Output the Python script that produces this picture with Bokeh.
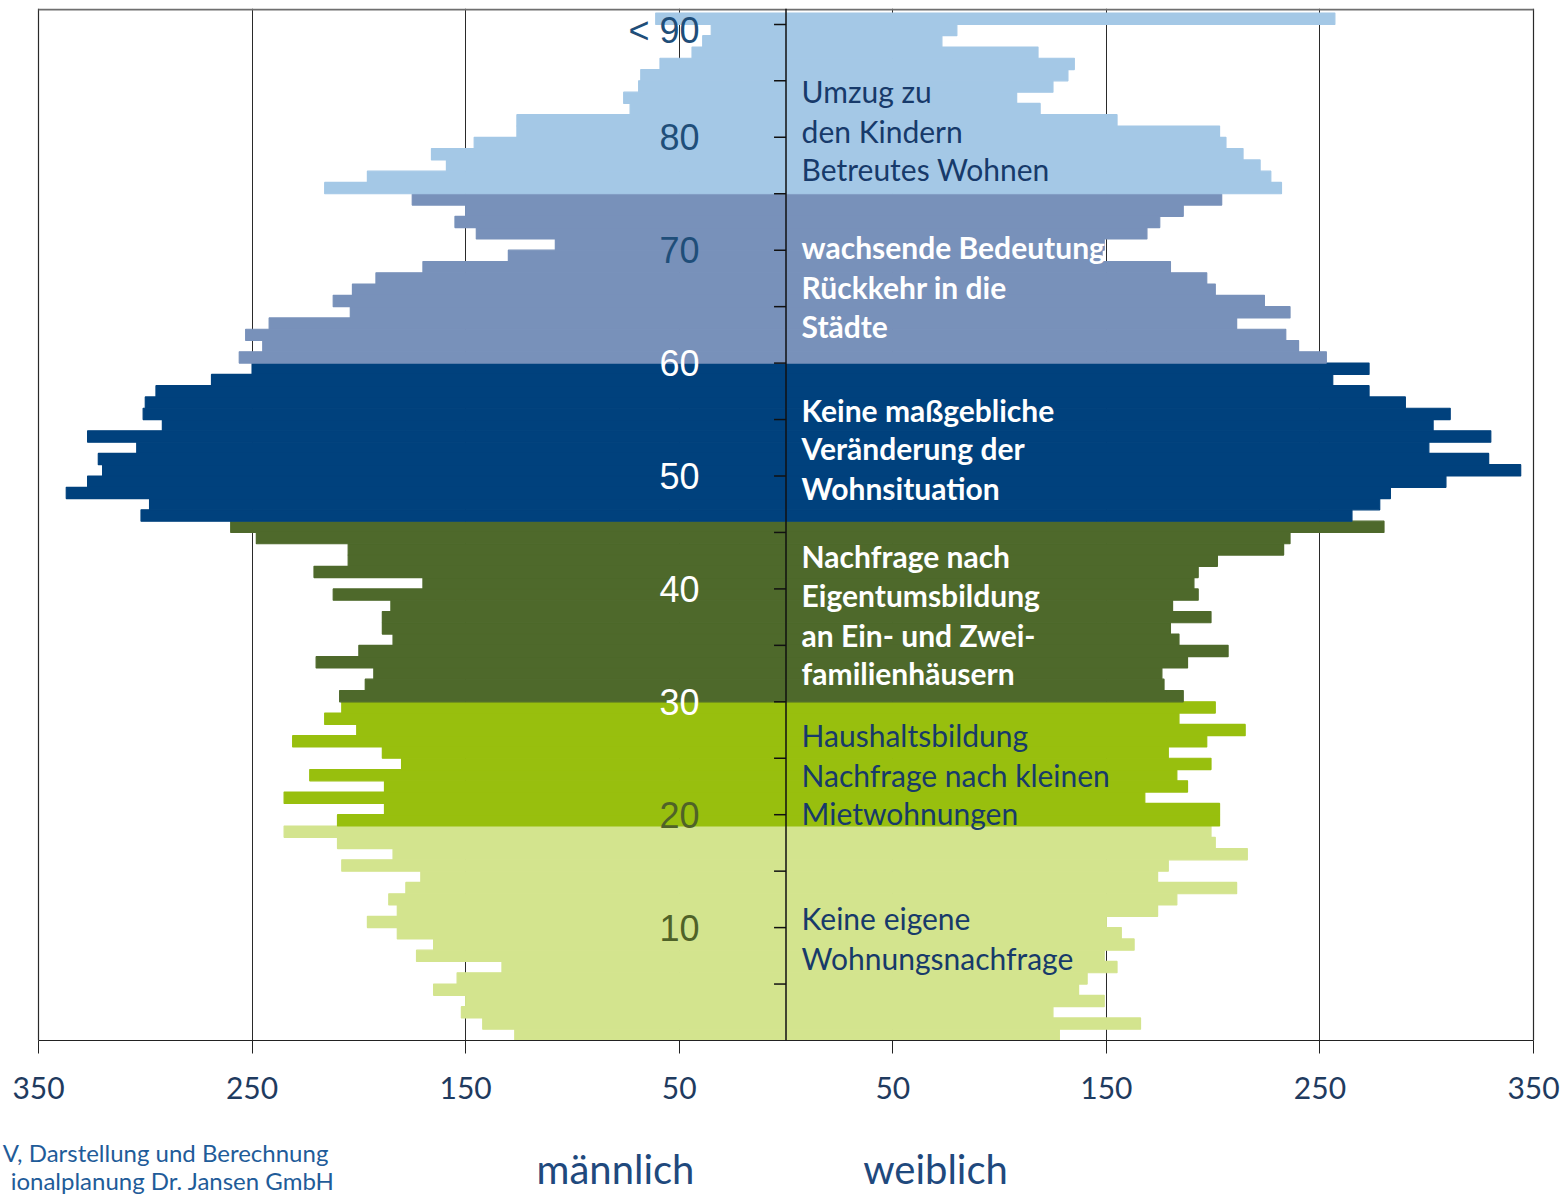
from bokeh.plotting import figure
from bokeh.models import ColumnDataSource, Range1d, FixedTicker, Span
from bokeh.layouts import column
from bokeh.embed import file_html
from bokeh.resources import INLINE
from bokeh.core.properties import value

# ---------------- data ----------------
ages = list(range(91))  # 0 .. 89, 90 = "< 90"
male = [127, 142, 152, 150, 165, 154, 133, 173, 165, 182,
        196, 182, 186, 178, 171, 208, 184, 210, 235, 210,
        188, 235, 188, 223, 180, 189, 231, 201, 216, 208,
        209, 197, 193, 220, 200, 184, 189, 189, 185, 212,
        170, 221, 205, 205, 248, 260, 302, 298, 337, 327,
        320, 322, 304, 327, 292, 301, 300, 295, 269, 250,
        256, 245, 253, 242, 204, 212, 203, 192, 170, 130,
        108, 145, 155, 150, 175, 216, 196, 159, 166, 146,
        126, 126, 73, 76, 69, 68, 59, 44, 39, 35,
        61]
female = [128, 166, 125, 149, 137, 141, 155, 149, 163, 157,
          150, 174, 183, 211, 174, 179, 216, 201, 199, 203,
          203, 168, 188, 183, 199, 179, 197, 215, 184, 201,
          186, 177, 176, 188, 207, 184, 180, 199, 181, 193,
          191, 193, 202, 233, 236, 280, 265, 278, 283, 309,
          344, 329, 301, 330, 303, 311, 290, 273, 256, 273,
          253, 240, 234, 211, 236, 224, 201, 197, 180, 148,
          149, 169, 175, 186, 204, 232, 227, 222, 214, 206,
          203, 155, 119, 108, 125, 132, 135, 118, 73, 80,
          257]

group_start = [0, 19, 30, 46, 60, 75]
group_colors = ["#D3E48E", "#98BF0E", "#4E692B", "#00417D", "#7891BA", "#A4C8E6"]

age_labels = ["10", "20", "30", "40", "50", "60", "70", "80", "< 90"]
age_label_ages = [10, 20, 30, 40, 50, 60, 70, 80, 89.5]
age_label_colors = ["#4F6228", "#4F6228", "white", "white", "white", "white",
                    "#1F4E79", "#1F4E79", "#1F4E79"]
center_ticks = list(range(5, 91, 5))

x_ticks = [-350, -250, -150, -50, 50, 150, 250, 350]
grid_ticks = [-250, -150, -50, 50, 150, 250]

dark_lines = ["Umzug zu", "den Kindern", "Betreutes Wohnen",
              "Haushaltsbildung", "Nachfrage nach kleinen", "Mietwohnungen",
              "Keine eigene", "Wohnungsnachfrage"]
dark_y = [84.06, 80.60, 77.15, 27.10, 23.56, 20.11, 10.81, 7.35]
white_lines = ["wachsende Bedeutung", "Rückkehr in die", "Städte",
               "Keine maßgebliche", "Veränderung der", "Wohnsituation",
               "Nachfrage nach", "Eigentumsbildung", "an Ein- und Zwei-", "familienhäusern"]
white_y = [70.24, 66.78, 63.33, 55.89, 52.44, 48.98, 42.87, 39.42, 35.96, 32.51]

sex_labels = ["männlich", "weiblich"]
source_lines = ["V, Darstellung  und Berechnung", "ionalplanung Dr. Jansen GmbH"]


def color_for(a):
    c = group_colors[0]
    for s, col in zip(group_start, group_colors):
        if a >= s:
            c = col
    return c


src = ColumnDataSource(dict(
    y=[a + 0.5 for a in ages],
    m=[-v for v in male],
    f=female,
    c=[color_for(a) for a in ages],
))

W = 1568
MAIN_H = 1110
FOOT_H = 86
PX_PER_YEAR = 11.29
FRAME_H = 1032
PX_PER_UNIT = 1495 / 700.0
LEFT_PX, RIGHT_PX = 38, 35
XMIN = -350 - LEFT_PX / PX_PER_UNIT
XMAX = 350 + RIGHT_PX / PX_PER_UNIT
YTOP = FRAME_H / PX_PER_YEAR

p = figure(width=W, height=MAIN_H, output_backend="svg", toolbar_location=None,
           x_range=Range1d(XMIN, XMAX), y_range=Range1d(0, YTOP),
           y_axis_location=None,
           min_border_left=0, min_border_right=0, min_border_top=8,
           min_border_bottom=MAIN_H - 8 - FRAME_H)
p.background_fill_color = "white"
p.border_fill_color = "white"
p.outline_line_color = None

p.xgrid.ticker = FixedTicker(ticks=grid_ticks)
p.xgrid.grid_line_color = "#2a2a2a"
p.xgrid.grid_line_width = 1
p.ygrid.visible = False

p.hbar(y="y", left="m", right=0, height=1, fill_color="c", line_color="c",
       line_width=1.2, source=src)
p.hbar(y="y", left=0, right="f", height=1, fill_color="c", line_color="c",
       line_width=1.2, source=src)

# plot-area border (left, right, top)
p.segment(x0=[-350, 350], x1=[-350, 350], y0=[0, 0], y1=[YTOP, YTOP],
          line_color="#2a2a2a", line_width=1.2)
p.segment(x0=[-350], x1=[350], y0=[YTOP - 0.09], y1=[YTOP - 0.09],
          line_color="#6f6f6f", line_width=2)

# center axis
p.add_layout(Span(location=0, dimension="height", line_color="#111111", line_width=1.5))
p.segment(x0=[-5.6] * len(center_ticks), x1=[0] * len(center_ticks),
          y0=center_ticks, y1=center_ticks, line_color="#111111", line_width=1.5)

# x axis
ax = p.xaxis[0]
ax.bounds = (-350, 350)
ax.ticker = FixedTicker(ticks=x_ticks)
ax.major_label_overrides = {t: str(abs(t)) for t in x_ticks}
ax.major_tick_out = 13
ax.major_tick_in = 0
ax.minor_tick_line_color = None
ax.axis_line_color = "#222222"
ax.major_tick_line_color = "#222222"
ax.major_label_text_font = "Lato"
ax.major_label_text_font_size = "30px"
ax.major_label_text_color = "#1F3B5F"
ax.major_label_standoff = 23

# age labels
p.text(x=[-40.5] * len(age_labels), y=age_label_ages, text=age_labels,
       text_color=age_label_colors, text_align="right", text_baseline="middle",
       text_font=value("Liberation Sans"), text_font_size="36px")

# annotations on the right
p.text(x=[7.3] * len(dark_lines), y=dark_y, text=dark_lines,
       text_color="#173A6A", text_align="left", text_baseline="middle",
       text_font=value("Lato"), text_font_size="30px")
p.text(x=[7.3] * len(white_lines), y=white_y, text=white_lines,
       text_color="white", text_align="left", text_baseline="middle",
       text_font=value("Lato"), text_font_size="30px", text_font_style="bold")

# ---------------- footer (pixel coordinates) ----------------
f = figure(width=W, height=FOOT_H, output_backend="svg", toolbar_location=None,
           x_range=Range1d(0, W), y_range=Range1d(FOOT_H, 0),
           x_axis_location=None, y_axis_location=None,
           min_border=0, min_border_left=0, min_border_right=0,
           min_border_top=0, min_border_bottom=0)
f.outline_line_color = None
f.xgrid.visible = False
f.ygrid.visible = False
f.background_fill_color = "white"
f.border_fill_color = "white"

f.text(x=[615, 935], y=[1168 - MAIN_H, 1168 - MAIN_H], text=sex_labels,
       text_align="center", text_baseline="middle",
       text_font=value("Lato"), text_font_size="40px", text_color="#1F497D")
f.text(x=[334, 334], y=[1152 - MAIN_H, 1180 - MAIN_H], text=source_lines,
       text_align="right", text_baseline="middle",
       text_font=value("Lato"), text_font_size="24px", text_color="#1F5C99")

layout = column(p, f, spacing=0)
open("out.html", "w").write(file_html(layout, INLINE))
